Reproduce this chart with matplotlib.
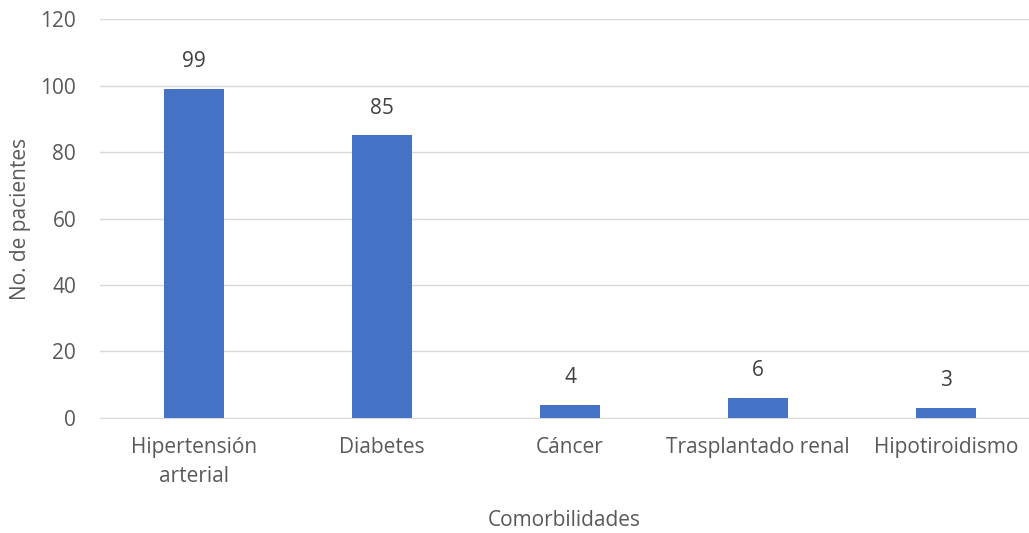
import matplotlib.pyplot as plt
import numpy as np

categorias = ['Hipertensión\narterial', 'Diabetes', 'Cáncer', 'Trasplantado renal', 'Hipotiroidismo']
pacientes = [99, 85, 4, 6, 3]

plt.rcParams['font.family'] = ['Open Sans', 'DejaVu Sans']
gris = '#595959'
fs = 15

fig = plt.figure(figsize=(10.29, 5.33), dpi=100)
ax = fig.add_axes([0.097, 0.216, 0.903, 0.748])

x = np.arange(len(categorias))
ax.bar(x, pacientes, width=0.32, color='#4472C4', zorder=3)
for xi, v in zip(x, pacientes):
    ax.text(xi, v + 5, str(v), ha='center', va='bottom', fontsize=fs, color='#404040')

ax.set_ylim(0, 120)
ax.set_yticks(range(0, 121, 20))
ax.set_xlim(-0.5, 4.44)
ax.set_xticks(x)
ax.set_xticklabels(categorias, fontsize=fs, color=gris, linespacing=1.5)
ax.tick_params(axis='y', labelsize=fs, labelcolor=gris, length=0, pad=17)
ax.tick_params(axis='x', length=0, pad=14)
ax.yaxis.grid(True, color='#D9D9D9', linewidth=1, zorder=0)
for s in ['top', 'right', 'left']:
    ax.spines[s].set_visible(False)
ax.spines['bottom'].set_color('#D9D9D9')

ax.set_xlabel('Comorbilidades', fontsize=fs, color=gris, labelpad=16)
ax.set_ylabel('No. de pacientes', fontsize=fs, color=gris, labelpad=7)

fig.savefig('out.png', dpi=100)
